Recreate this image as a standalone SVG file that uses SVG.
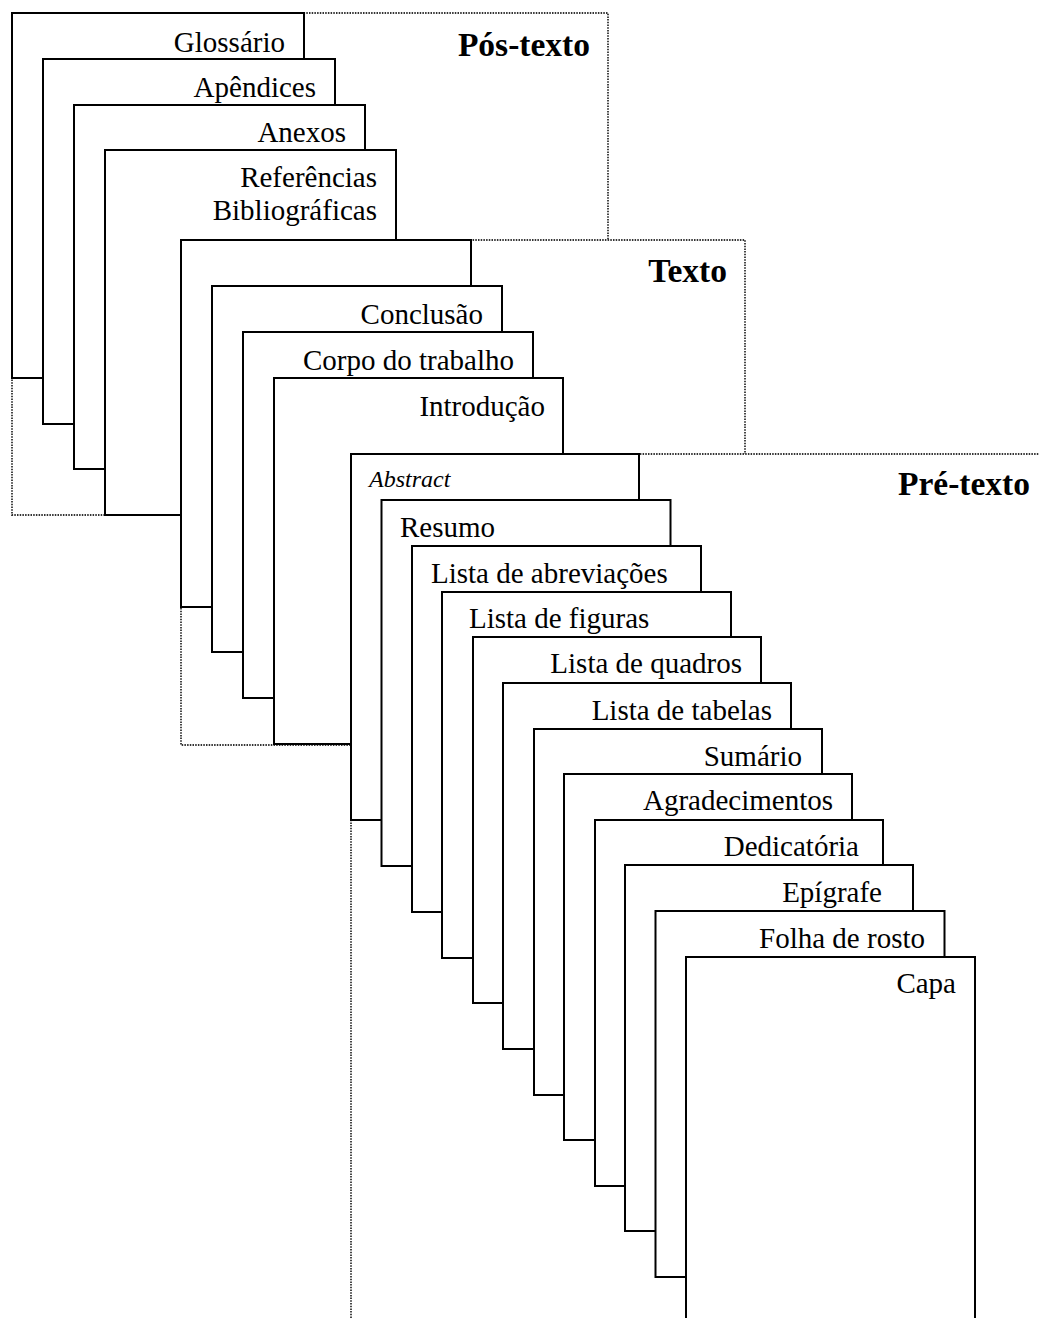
<svg xmlns="http://www.w3.org/2000/svg" width="1039" height="1318" viewBox="0 0 1039 1318">
<style>
.frame{fill:#fff;stroke:#333;stroke-width:1.8;stroke-dasharray:1.5 1.2}
.page{fill:#fff;stroke:#000;stroke-width:2}
.lbl{font-family:"Liberation Serif","Times New Roman",serif;font-size:29px;fill:#000}
.end{text-anchor:end}
.it{font-style:italic;font-size:24px}
.grp{font-family:"Liberation Serif","Times New Roman",serif;font-size:33.5px;font-weight:bold;fill:#000;text-anchor:end}
</style>
<rect width="1039" height="1318" fill="#fff"/>

<g id="pos-texto">
<rect class="frame" x="12" y="13" width="596" height="502"/>
<text class="grp" x="590" y="56">Pós-texto</text>
</g>
<g id="glossario"><rect class="page" x="12" y="13" width="292" height="365"/><text class="lbl end" x="285" y="52">Glossário</text></g>
<g id="apendices"><rect class="page" x="43" y="59" width="292" height="365"/><text class="lbl end" x="316" y="97">Apêndices</text></g>
<g id="anexos"><rect class="page" x="74" y="105" width="291" height="364"/><text class="lbl end" x="346" y="142">Anexos</text></g>
<g id="referencias"><rect class="page" x="105" y="150" width="291" height="365"/><text class="lbl end" x="377" y="187">Referências</text><text class="lbl end" x="377" y="220">Bibliográficas</text></g>

<g id="texto">
<rect class="frame" x="181" y="240" width="564" height="505"/>
<text class="grp" x="727" y="282">Texto</text>
</g>
<g id="texto-capa"><rect class="page" x="181" y="240" width="290" height="367"/></g>
<g id="conclusao"><rect class="page" x="212" y="286" width="290" height="366"/><text class="lbl end" x="483" y="324">Conclusão</text></g>
<g id="corpo"><rect class="page" x="243" y="332" width="290" height="366"/><text class="lbl end" x="514" y="370">Corpo do trabalho</text></g>
<g id="introducao"><rect class="page" x="274" y="378" width="289" height="366"/><text class="lbl end" x="545" y="416">Introdução</text></g>

<g id="pre-texto">
<rect class="frame" x="351" y="454" width="720" height="900"/>
<text class="grp" x="1030" y="495">Pré-texto</text>
</g>
<g id="abstract"><rect class="page" x="351" y="454" width="288" height="366"/><text class="lbl it" x="369" y="487">Abstract</text></g>
<g id="resumo"><rect class="page" x="381.5" y="500" width="289" height="366"/><text class="lbl" x="400" y="537">Resumo</text></g>
<g id="lista-abreviacoes"><rect class="page" x="412" y="546" width="289" height="366"/><text class="lbl" x="431" y="583">Lista de abreviações</text></g>
<g id="lista-figuras"><rect class="page" x="442" y="592" width="289" height="366"/><text class="lbl" x="469" y="628">Lista de figuras</text></g>
<g id="lista-quadros"><rect class="page" x="473" y="637" width="288" height="366"/><text class="lbl end" x="742" y="673">Lista de quadros</text></g>
<g id="lista-tabelas"><rect class="page" x="503" y="683" width="288" height="366"/><text class="lbl end" x="772" y="720">Lista de tabelas</text></g>
<g id="sumario"><rect class="page" x="534" y="729" width="288" height="366"/><text class="lbl end" x="802" y="766">Sumário</text></g>
<g id="agradecimentos"><rect class="page" x="564" y="774" width="288" height="366"/><text class="lbl end" x="833" y="810">Agradecimentos</text></g>
<g id="dedicatoria"><rect class="page" x="595" y="820" width="288" height="366"/><text class="lbl end" x="859" y="856">Dedicatória</text></g>
<g id="epigrafe"><rect class="page" x="625" y="865" width="288" height="366"/><text class="lbl end" x="882" y="902">Epígrafe</text></g>
<g id="folha-de-rosto"><rect class="page" x="655.5" y="911" width="289" height="366"/><text class="lbl end" x="925" y="948">Folha de rosto</text></g>
<g id="capa"><rect class="page" x="686" y="957" width="289" height="366"/><text class="lbl end" x="956" y="993">Capa</text></g>

<g id="connectors"></g>
</svg>
